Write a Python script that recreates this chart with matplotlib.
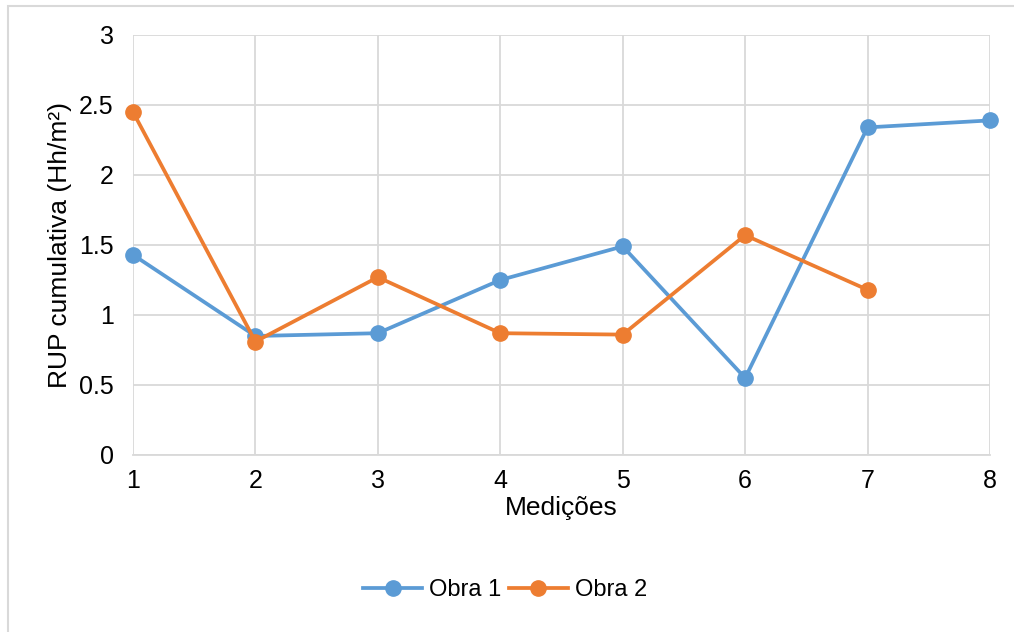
import matplotlib.pyplot as plt
from matplotlib.patches import Rectangle

plt.rcParams['font.family'] = ['Liberation Sans', 'DejaVu Sans']

medicoes = [1, 2, 3, 4, 5, 6, 7, 8]
obra1 = [1.43, 0.85, 0.87, 1.25, 1.49, 0.55, 2.34, 2.39]
obra2 = [2.45, 0.81, 1.27, 0.87, 0.86, 1.57, 1.18]

blue = '#5B9BD5'
orange = '#ED7D31'
grid = '#D9D9D9'

fig = plt.figure(figsize=(10.14, 6.32), dpi=100)
# chart area border (cropped on top/right/bottom)
fig.patches.append(Rectangle((8 / 1014, -0.1), 1.2, 1.1 - 6 / 632, transform=fig.transFigure,
                             fill=False, edgecolor=grid, linewidth=1.5))

ax = fig.add_axes([133 / 1014, 1 - 455 / 632, (990 - 133) / 1014, (455 - 35) / 632])
ax.plot(medicoes, obra1, color=blue, linewidth=2.7, marker='o', markersize=11,
        label='Obra 1', clip_on=False, zorder=3)
ax.plot(medicoes[:len(obra2)], obra2, color=orange, linewidth=2.7, marker='o', markersize=11,
        label='Obra 2', clip_on=False, zorder=3)

ax.set_xlim(1, 8)
ax.set_ylim(0, 3)
ax.set_xticks(medicoes)
ax.set_yticks([0, 0.5, 1, 1.5, 2, 2.5, 3])
ax.set_yticklabels(['0', '0.5', '1', '1.5', '2', '2.5', '3'])
ax.grid(True, color=grid, linewidth=1.3)
ax.set_axisbelow(True)
for s in ['top', 'right', 'left']:
    ax.spines[s].set_visible(False)
ax.spines['bottom'].set_color(grid)
ax.spines['bottom'].set_linewidth(1.3)
ax.tick_params(length=0, labelsize=18, pad=10)
ax.tick_params(axis='y', pad=14)
ax.set_xlabel('Medições', fontsize=19, labelpad=2)
ax.set_ylabel('RUP cumulativa (Hh/m²)', fontsize=19, labelpad=5)

fig.legend(loc='center', bbox_to_anchor=(505 / 1014, 1 - 590 / 632), ncol=2, frameon=False,
           fontsize=17, handlelength=2.5, columnspacing=0.3, handletextpad=0.3)

fig.savefig('out.png', dpi=100)
